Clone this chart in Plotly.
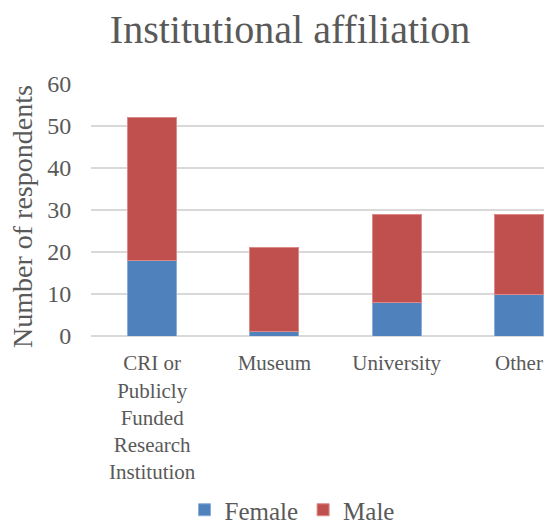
import plotly.graph_objects as go

categories = ["CRI or<br>Publicly<br>Funded<br>Research<br>Institution", "Museum", "University", "Other"]
female = [18, 1, 8, 10]
male = [34, 20, 21, 19]

FONT = "Liberation Serif"
GREY = "#595959"

# The page body has an 8px margin, so the figure is sized to the visible area.
W, H, OFF = 544, 519, 8
L, T, PLOT_BOTTOM = 91 - OFF, 84 - OFF, 336 - OFF
PW, PH = W - L, PLOT_BOTTOM - T

fig = go.Figure()
fig.add_bar(x=categories, y=female, name="Female", marker=dict(color="#4F81BD", line=dict(color="#8AAEDC", width=1)), width=0.4)
fig.add_bar(x=categories, y=male, name="Male", marker=dict(color="#C0504D", line=dict(color="#DC8A88", width=1)), width=0.4)

fig.update_layout(
    barmode="stack",
    width=W, height=H,
    margin=dict(l=L, r=0, t=T, b=H - PLOT_BOTTOM, autoexpand=False),
    paper_bgcolor="white", plot_bgcolor="white",
    font=dict(family=FONT, color=GREY, size=21),
    title=dict(text="Institutional affiliation", font=dict(size=40, color=GREY, family=FONT),
               x=(290 - OFF) / W, xref="container", xanchor="center",
               y=1 - (29 - OFF) / H, yref="container", yanchor="middle"),
    legend=dict(orientation="h", xref="container", x=(292 - OFF) / W, xanchor="center", yref="container",
                y=1 - (510 - OFF) / H, yanchor="middle", font=dict(size=25, color=GREY), traceorder="normal",
                itemwidth=30, bgcolor="rgba(0,0,0,0)"),
    bargap=0.6,
    annotations=[dict(text="Number of respondents", textangle=-90, showarrow=False,
                      xref="paper", yref="paper",
                      x=((22 - OFF) - L) / PW, y=1 - ((217 - OFF) - T) / PH,
                      xanchor="center", yanchor="middle",
                      font=dict(size=28, color=GREY, family=FONT))],
)
fig.update_xaxes(range=[-0.5, 3.27], showline=False, showgrid=False, ticks="outside", ticklen=8,
                 tickcolor="rgba(0,0,0,0)", tickfont=dict(size=21, color=GREY), fixedrange=True,
                 automargin=False)
fig.update_yaxes(range=[0, 60], dtick=10, showgrid=True, gridcolor="#D9D9D9", gridwidth=1.5,
                 zeroline=True, zerolinecolor="#D9D9D9", zerolinewidth=1.5,
                 ticks="outside", ticklen=14, tickcolor="rgba(0,0,0,0)",
                 tickfont=dict(size=24, color=GREY), automargin=False)

fig.write_html("out.html")
